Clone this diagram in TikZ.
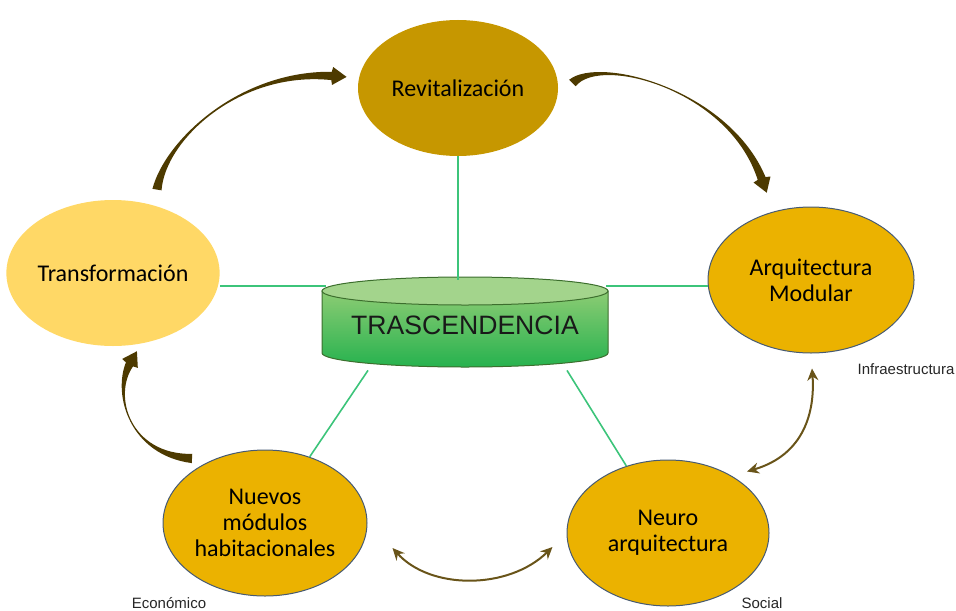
\documentclass[tikz,border=0pt]{standalone}
\usepackage{fontspec}
\setmainfont{Carlito}
\newfontfamily\labelfont{Liberation Sans}
\usetikzlibrary{arrows.meta,calc,shapes.geometric}

\definecolor{revitgold}{RGB}{198,151,0}
\definecolor{softyellow}{RGB}{255,216,102}
\definecolor{ambergold}{RGB}{235,178,0}
\definecolor{rimblue}{RGB}{70,90,115}
\definecolor{linkgreen}{RGB}{60,196,122}
\definecolor{cyltop}{RGB}{163,212,140}
\definecolor{cylhigh}{RGB}{140,204,116}
\definecolor{cyllow}{RGB}{38,178,78}
\definecolor{cylrim}{RGB}{60,110,45}
\definecolor{flowbrown}{RGB}{77,58,0}
\definecolor{swapbrown}{RGB}{105,84,25}

\tikzset{
  stage/.style 2 args={ellipse, minimum width=#1, minimum height=#2, inner sep=0pt,
    align=center, font=\fontsize{12}{13}\selectfont},
  link/.style={linkgreen, line width=0.8pt},
  swap/.style={swapbrown, line width=1pt,
    {Stealth[length=6pt,width=5.5pt]}-{Stealth[length=6pt,width=5.5pt]}},
  tag/.style={font=\labelfont\fontsize{7.5}{9}\selectfont, text=black!85}
}

% tapered bent arrow: start, control, control, base of head
\newcommand\bentarrow[4]{%
  \fill[flowbrown] ($(#1)!2.3pt!90:(#2)$) .. controls (#2) and (#3) .. ($(#4)!2.1pt!-90:(#3)$)
    -- ($(#4)!2.1pt!90:(#3)$) .. controls (#3) and (#2) .. ($(#1)!2.3pt!-90:(#2)$) -- cycle;
  \fill[flowbrown] ($(#4)!-7pt!(#3)$) -- ($(#4)!4.5pt!90:(#3)$) -- ($(#4)!1pt!(#3)$)
    -- ($(#4)!4.5pt!-90:(#3)$) -- cycle;
}

\begin{document}
\begin{tikzpicture}[x=0.5pt,y=-0.5pt]
  \useasboundingbox (0,0) rectangle (956,610);

  % the five stages
  \node [stage={100pt}{68pt}, fill=revitgold] (revit) at (458,88) {Revitalización};
  \node [stage={103pt}{73pt}, fill=softyellow] (trans) at (113,273) {Transformación};
  \node [stage={103pt}{73pt}, fill=ambergold, draw=rimblue, line width=0.5pt] (arq) at (811,280) {Arquitectura\\Modular};
  \node [stage={102pt}{73pt}, fill=ambergold, draw=rimblue, line width=0.5pt] (nuevos) at (265,523) {Nuevos\\módulos\\habitacionales};
  \node [stage={101pt}{73pt}, fill=ambergold, draw=rimblue, line width=0.5pt] (neuro) at (668,533) {Neuro\\arquitectura};

  % centre cylinder
  \shade [top color=cylhigh, bottom color=cyllow, draw=cylrim, line width=0.5pt]
    (322,291) -- (322,353) arc [start angle=180, end angle=0, x radius=143, y radius=14] -- (608,291) -- cycle;
  \draw [fill=cyltop, draw=cylrim, line width=0.5pt] (465,291) ellipse [x radius=143, y radius=14];
  \node [font=\labelfont\fontsize{13.3}{15}\selectfont, text=black!90, minimum width=143.5pt,
    minimum height=45pt, inner sep=0pt] (core) at (465,325) {TRASCENDENCIA};
  \coordinate (coreL) at (326,286);
  \coordinate (coreR) at (606,286);

  % green links
  \draw [link] (revit) -- (revit |- core.north);
  \draw [link] (coreL -| trans.east) -- (coreL);
  \draw [link] (coreR) -- (coreR -| arq.west);
  \draw [link] ($(core.south)+(-97,0)$) -- (nuevos);
  \draw [link] ($(core.south)+(102,0)$) -- (neuro);

  % bent arrows of the cycle
  \coordinate (t1) at ($(trans.north)+(44,-10)$);
  \coordinate (r1) at ($(revit.west)+(-25,-12)$);
  \bentarrow{t1}{165,140}{240,70}{r1}
  \coordinate (r2) at ($(revit.east)+(14,-5)$);
  \coordinate (a2) at ($(arq.north)+(-49,-27)$);
  \bentarrow{r2}{600,55}{730,90}{a2}
  \coordinate (n3) at ($(nuevos.north)+(-73,9)$);
  \coordinate (t3) at ($(trans.south)+(17,17)$);
  \bentarrow{n3}{130,455}{112,395}{t3}

  % two-way arrows
  \coordinate (infraTip) at ($(arq.south)+(1,15)$);
  \coordinate (neuroTip) at ($(neuro.north)+(79,12)$);
  \draw [swap] (neuroTip) .. controls +(58,-17) and +(3,42) .. (infraTip);
  \coordinate (ecoTip) at ($(nuevos.east)+(25,25)$);
  \coordinate (socTip) at ($(neuro.west)+(-14,14)$);
  \draw [swap] (ecoTip) .. controls +(38,42) and +(-44,43) .. (socTip);

  % side labels
  \node [tag] (infra) at (906,369) {Infraestructura};
  \node [tag] (eco) at (169,603) {Económico};
  \node [tag] (soc) at (762,603) {Social};
\end{tikzpicture}
\end{document}
